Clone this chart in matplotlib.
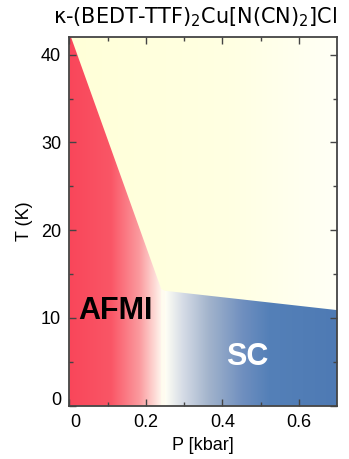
import numpy as np
import matplotlib
matplotlib.use("Agg")
import matplotlib.pyplot as plt
import matplotlib.transforms as mtransforms
from matplotlib.colors import LinearSegmentedColormap
from matplotlib.patches import Polygon

# Phase-boundary data (P in kbar, T in K)
afmi_boundary_P = [0.0, 0.24, 0.24]
afmi_boundary_T = [42.5, 13.3, 0.0]
sc_boundary_P = [0.25, 0.25, 0.70]
sc_boundary_T = [0.0, 13.1, 10.9]
xlim = (0.0, 0.70)
ylim = (0.0, 42.0)
xticks = [0, 0.2, 0.4, 0.6]
xtick_labels = ["0", "0.2", "0.4", "0.6"]
yticks = [0, 10, 20, 30, 40]
phase_labels = ["AFMI", "SC"]

plt.rcParams["mathtext.default"] = "regular"
fig = plt.figure(figsize=(3.49, 4.59), dpi=100)
ax = fig.add_axes([0.199, 0.116, 0.767, 0.803])
ax.set_xlim(*xlim)
ax.set_ylim(*ylim)

nx = 700
grad = np.linspace(0, 1, nx).reshape(1, -1)

# background (paramagnetic metal) yellow gradient
cm_bg = LinearSegmentedColormap.from_list("bg", [(0, "#ffffd8"), (0.6, "#ffffe2"), (1, "#fffff6")])
ax.imshow(grad, cmap=cm_bg, extent=[xlim[0], xlim[1], ylim[0], ylim[1]],
          aspect="auto", zorder=0, interpolation="bilinear")

# AFMI region
cm_red = LinearSegmentedColormap.from_list(
    "red", [(0, "#f9465a"), (0.45, "#fa5666"), (0.75, "#fb9a9e"), (1.0, "#fffbf2")])
im1 = ax.imshow(grad, cmap=cm_red, extent=[0.0, afmi_boundary_P[1] + 0.005, 0, 43],
                aspect="auto", zorder=1, interpolation="bilinear")
red_verts = [(0.0, 0.0), (0.0, afmi_boundary_T[0])] + list(zip(afmi_boundary_P, afmi_boundary_T))
red_patch = Polygon(red_verts, closed=True, facecolor="none", edgecolor="none", transform=ax.transData)
ax.add_patch(red_patch)
im1.set_clip_path(red_patch)

# strip between the two low-T phases
strip_verts = [(afmi_boundary_P[1], 0.0), (afmi_boundary_P[1], afmi_boundary_T[1]),
               (sc_boundary_P[1], sc_boundary_T[1]), (sc_boundary_P[0], 0.0)]
ax.add_patch(Polygon(strip_verts, closed=True, facecolor="#fffbf0", edgecolor="none", zorder=1))

# SC region
cm_blue = LinearSegmentedColormap.from_list(
    "blue", [(0, "#fffff5"), (0.1, "#d6dce6"), (0.25, "#a3b4cc"), (0.45, "#6f8fbf"), (0.6, "#5480b8"), (1.0, "#4e7ab4")])
im2 = ax.imshow(grad, cmap=cm_blue, extent=[sc_boundary_P[0], xlim[1], 0, 14],
                aspect="auto", zorder=1, interpolation="bilinear")
blue_verts = list(zip(sc_boundary_P, sc_boundary_T)) + [(xlim[1], 0.0)]
blue_patch = Polygon(blue_verts, closed=True, facecolor="none", edgecolor="none", transform=ax.transData)
ax.add_patch(blue_patch)
im2.set_clip_path(blue_patch)

ax.text(0.12, 10.8, phase_labels[0], fontsize=22, fontweight="bold", color="black",
        ha="center", va="center", family="Liberation Sans", zorder=3)
ax.text(0.466, 5.5, phase_labels[1], fontsize=22, fontweight="bold", color="white",
        ha="center", va="center", family="Liberation Sans", zorder=3)

ax.set_xticks(xticks)
ax.set_xticklabels(xtick_labels)
ax.set_yticks(yticks)
ax.set_xticks(np.arange(0.1, 0.7, 0.2), minor=True)
ax.set_yticks(np.arange(5, 42, 10), minor=True)
ax.tick_params(which="both", direction="in", top=True, right=True, color="#444444")
ax.tick_params(which="major", length=5, width=1, labelsize=13, pad=6)
ax.tick_params(which="minor", length=3, width=1)
for lab in ax.get_xticklabels() + ax.get_yticklabels():
    lab.set_family("Liberation Sans")
# shift the two "0" labels away from the corner
xl0 = ax.get_xticklabels()[0]
xl0.set_transform(xl0.get_transform() + mtransforms.ScaledTranslation(6 / 100, 0, fig.dpi_scale_trans))
yl0 = ax.get_yticklabels()[0]
yl0.set_transform(yl0.get_transform() + mtransforms.ScaledTranslation(0, 7 / 100, fig.dpi_scale_trans))
for s in ax.spines.values():
    s.set_color("#444444")
    s.set_linewidth(1.3)
    s.set_zorder(5)

ax.set_xlabel("P [kbar]", fontsize=13, family="Liberation Sans", labelpad=4)
ax.set_ylabel("T (K)", fontsize=13, family="Liberation Sans", labelpad=6)

fig.text(0.56, 0.962, r"κ-(BEDT-TTF)$_2$Cu[N(CN)$_2$]Cl", fontsize=15,
         family=["Liberation Sans Narrow", "DejaVu Sans"], ha="center", va="center")

fig.savefig("out.png", dpi=100)
